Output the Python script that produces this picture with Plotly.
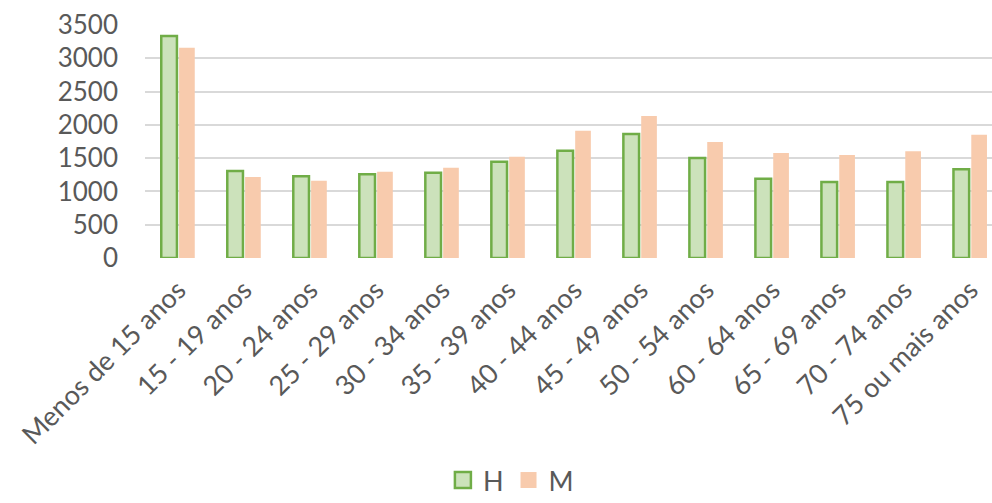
import plotly.graph_objects as go

categories = ["Menos de 15 anos", "15 - 19 anos", "20 - 24 anos", "25 - 29 anos",
              "30 - 34 anos", "35 - 39 anos", "40 - 44 anos", "45 - 49 anos",
              "50 - 54 anos", "60 - 64 anos", "65 - 69 anos", "70 - 74 anos",
              "75 ou mais anos"]
H = [3335, 1307, 1227, 1257, 1282, 1447, 1612, 1863, 1502, 1191, 1142, 1142, 1332]
M = [3160, 1217, 1161, 1297, 1357, 1522, 1913, 2133, 1743, 1577, 1547, 1603, 1852]
y_ticks = [0, 500, 1000, 1500, 2000, 2500, 3000, 3500]

FONT = "Lato, Open Sans, sans-serif"
GRAY = "#595959"
H_FILL, H_LINE = "#cce2bb", "#70ad47"
M_FILL = "#f8cbad"

fig = go.Figure()
fig.add_trace(go.Bar(x=categories, y=H, name="H", showlegend=False,
                     marker=dict(color=H_FILL, line=dict(color=H_LINE, width=2.5))))
fig.add_trace(go.Bar(x=categories, y=M, name="M", showlegend=False,
                     marker=dict(color=M_FILL, line=dict(color=M_FILL, width=0))))
# legend entries with larger square symbols
fig.add_trace(go.Scatter(x=[None], y=[None], mode="markers", name="H",
                         marker=dict(symbol="square", size=18, color=H_FILL,
                                     line=dict(color=H_LINE, width=2.5))))
fig.add_trace(go.Scatter(x=[None], y=[None], mode="markers", name="M",
                         marker=dict(symbol="square", size=19, color=M_FILL,
                                     line=dict(width=0))))

fig.update_layout(
    width=992, height=503,
    margin=dict(l=145, r=0, t=25, b=245, autoexpand=False),
    paper_bgcolor="white", plot_bgcolor="white",
    barmode="group", bargap=0.46, bargroupgap=0.12,
    font=dict(family=FONT, size=26, color=GRAY),
    showlegend=True,
    legend=dict(orientation="h", x=0.432, xanchor="center", y=-1.06, yanchor="bottom",
                font=dict(size=27, color=GRAY), itemwidth=30, traceorder="normal",
                borderwidth=0),
)
fig.update_yaxes(range=[0, 3500], tickvals=y_ticks, showgrid=True, gridcolor="#d9d9d9",
                 gridwidth=2, zeroline=False, showline=False, ticklabelstandoff=26,
                 tickfont=dict(size=26, color=GRAY), automargin=False)
fig.update_xaxes(range=[-0.5, 12.33], tickangle=-45, showgrid=False, showline=False,
                 ticklabelstandoff=10, tickfont=dict(size=27, color=GRAY), automargin=False)

fig.write_html("out.html", config={"displayModeBar": False},
               post_script="document.body.style.margin='0';document.body.style.overflow='hidden';")
